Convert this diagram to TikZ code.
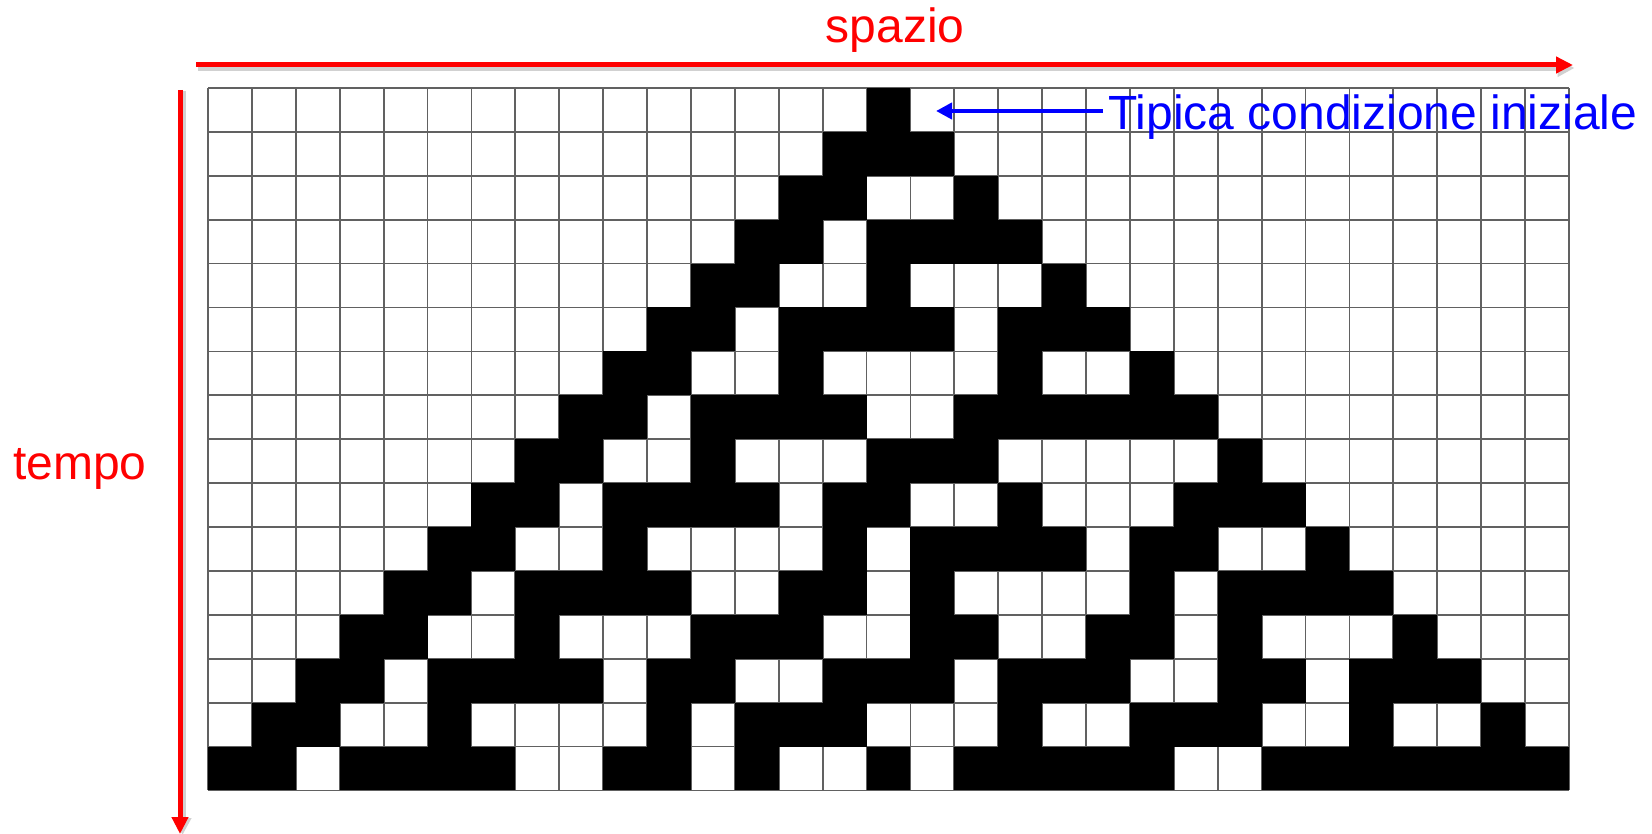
\documentclass[tikz,border=0pt]{standalone}
\usepackage{fontspec}
\setmainfont{Liberation Sans}
\usetikzlibrary{arrows.meta}
\definecolor{axisred}{RGB}{255,0,0}
\definecolor{labelblue}{RGB}{0,0,255}
\tikzset{
  gridline/.style={draw=black!62, line width=1.8pt},
  cellfill/.style={fill=black},
  axisarrow/.style={draw=axisred, line width=5pt, -{Triangle[length=17pt,width=16pt]}},
  axisshadow/.style={draw=black!18, line width=6pt, -{Triangle[length=17pt,width=17pt]}},
  notearrow/.style={draw=labelblue, line width=4pt, -{Triangle[length=16pt,width=16pt]}},
  bigtext/.style={inner sep=0pt, font=\fontsize{48}{58}\selectfont},
}
\begin{document}
\begin{tikzpicture}[x=1pt,y=-1pt]
\useasboundingbox (0,0) rectangle (1652,834);
% grid corners
\coordinate (gridNW) at (208,88);
\coordinate (gridSE) at (1568.9,790.4);
% grid lines
\foreach \i in {0,...,31} {
  \draw[gridline] (208+\i*43.9,88) -- (208+\i*43.9,790.4);
}
\foreach \j in {0,...,16} {
  \draw[gridline] (208,88+\j*43.9) -- (1568.9,88+\j*43.9);
}
% black cells (rule 30)
\foreach \r/\cols in {
  0/{15},
  1/{14,15,16},
  2/{13,14,17},
  3/{12,13,15,16,17,18},
  4/{11,12,15,19},
  5/{10,11,13,14,15,16,18,19,20},
  6/{9,10,13,18,21},
  7/{8,9,11,12,13,14,17,18,19,20,21,22},
  8/{7,8,11,15,16,17,23},
  9/{6,7,9,10,11,12,14,15,18,22,23,24},
  10/{5,6,9,14,16,17,18,19,21,22,25},
  11/{4,5,7,8,9,10,13,14,16,21,23,24,25,26},
  12/{3,4,7,11,12,13,16,17,20,21,23,27},
  13/{2,3,5,6,7,8,10,11,14,15,16,18,19,20,23,24,26,27,28},
  14/{1,2,5,10,12,13,14,18,21,22,23,26,29},
  15/{0,1,3,4,5,6,9,10,12,15,17,18,19,20,21,24,25,26,27,28,29,30}} {
  \foreach \c in \cols {
    \fill[cellfill] (208+\c*43.9,88+\r*43.9) rectangle ++(43.9,43.9);
  }
}
% axes
\coordinate (spaceStart) at (196,65);
\coordinate (spaceEnd) at (1573,65);
\coordinate (timeStart) at (180,90);
\coordinate (timeEnd) at (180,834);
\draw[axisshadow] ([shift={(1.5,3)}]spaceStart) -- ([shift={(1.5,3)}]spaceEnd);
\draw[axisshadow] ([shift={(2.5,1)}]timeStart) -- ([shift={(2.5,1)}]timeEnd);
\draw[axisarrow] (spaceStart) -- (spaceEnd);
\draw[axisarrow] (timeStart) -- (timeEnd);
% labels
\node[bigtext, text=axisred, anchor=base] (spazio) at (895,43) {spazio};
\node[bigtext, text=axisred, anchor=base west] (tempo) at (13,479) {tempo};
\node[bigtext, text=labelblue, anchor=base west] (initlabel) at (1108,130) {Tipica condizione iniziale};
\coordinate (initcell) at (936,111);
\coordinate (noteStart) at (1103,111);
\draw[notearrow] (noteStart) -- (initcell);
\end{tikzpicture}
\end{document}
